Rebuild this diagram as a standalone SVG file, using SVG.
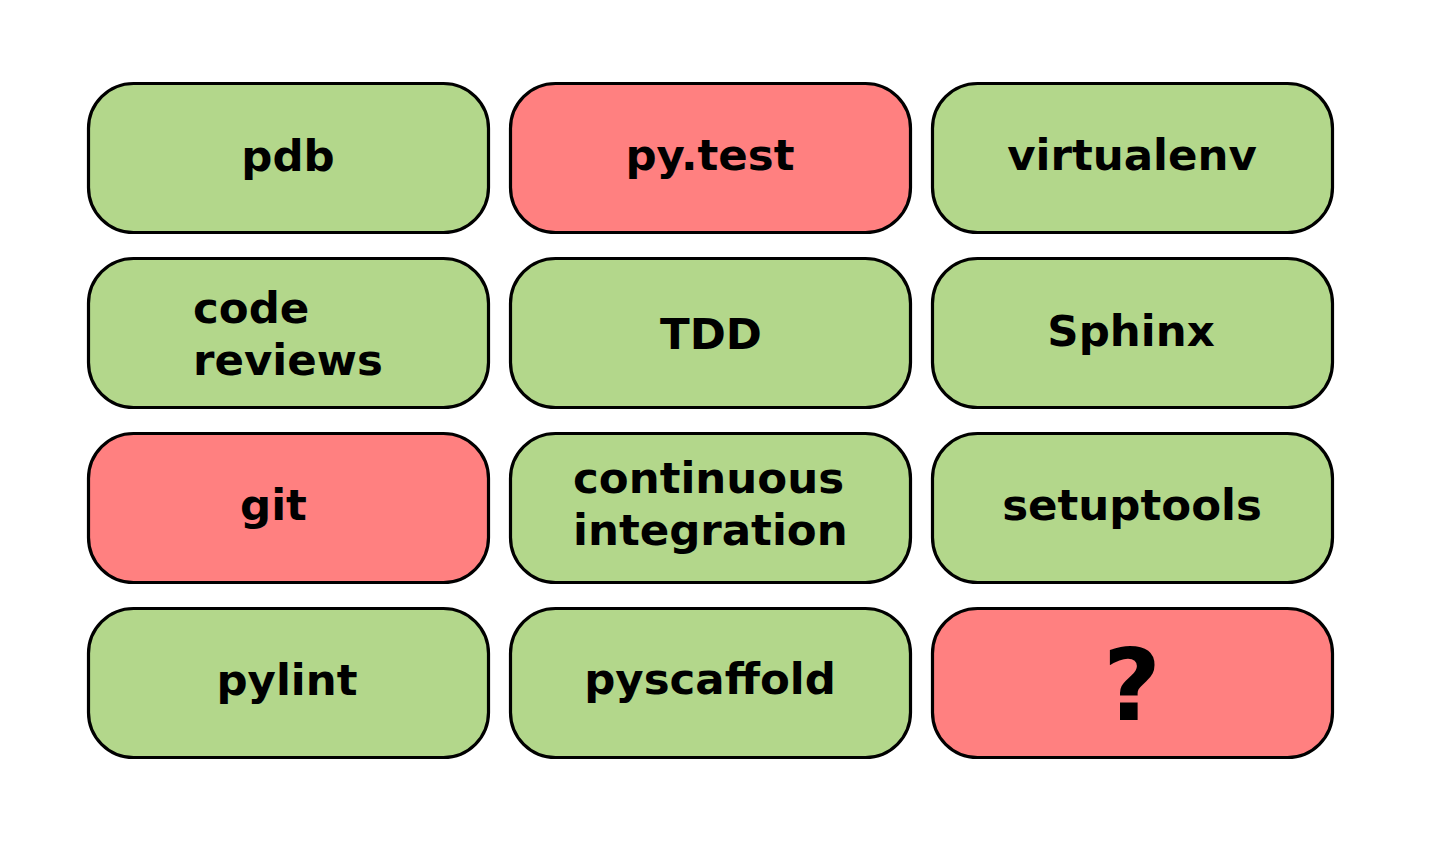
<svg xmlns="http://www.w3.org/2000/svg" width="1445" height="849" viewBox="0 0 1445 849">
<style>
.box{stroke:#000;stroke-width:3.2}
.g{fill:#b3d78b}
.r{fill:#ff8080}
text{font-family:"DejaVu Sans",sans-serif;font-weight:bold;font-size:43.5px;fill:#000}
.c{text-anchor:middle}
</style>
<rect width="1445" height="849" fill="#fff"/>
<g id="connectors"></g>
<g id="pdb"><rect class="box g" x="88.5" y="83.5" width="400" height="149" rx="45"/><text class="c" x="288" y="171">pdb</text></g>
<g id="pytest"><rect class="box r" x="510.5" y="83.5" width="400" height="149" rx="45"/><text class="c" x="710" y="170">py.test</text></g>
<g id="virtualenv"><rect class="box g" x="932.5" y="83.5" width="400" height="149" rx="45"/><text class="c" x="1132" y="170">virtualenv</text></g>
<g id="codereviews"><rect class="box g" x="88.5" y="258.5" width="400" height="149" rx="45"/><text x="193" y="323">code</text><text x="193" y="375">reviews</text></g>
<g id="tdd"><rect class="box g" x="510.5" y="258.5" width="400" height="149" rx="45"/><text class="c" x="711" y="349">TDD</text></g>
<g id="sphinx"><rect class="box g" x="932.5" y="258.5" width="400" height="149" rx="45"/><text class="c" x="1131" y="346">Sphinx</text></g>
<g id="git"><rect class="box r" x="88.5" y="433.5" width="400" height="149" rx="45"/><text x="240" y="520">git</text></g>
<g id="ci"><rect class="box g" x="510.5" y="433.5" width="400" height="149" rx="45"/><text x="573" y="493">continuous</text><text x="573" y="545">integration</text></g>
<g id="setuptools"><rect class="box g" x="932.5" y="433.5" width="400" height="149" rx="45"/><text class="c" x="1132" y="520">setuptools</text></g>
<g id="pylint"><rect class="box g" x="88.5" y="608.5" width="400" height="149" rx="45"/><text class="c" x="287" y="695">pylint</text></g>
<g id="pyscaffold"><rect class="box g" x="510.5" y="608.5" width="400" height="149" rx="45"/><text class="c" x="710" y="694">pyscaffold</text></g>
<g id="unknown"><rect class="box r" x="932.5" y="608.5" width="400" height="149" rx="45"/><text class="c" x="1132" y="720" style="font-size:100px">?</text></g>
</svg>
